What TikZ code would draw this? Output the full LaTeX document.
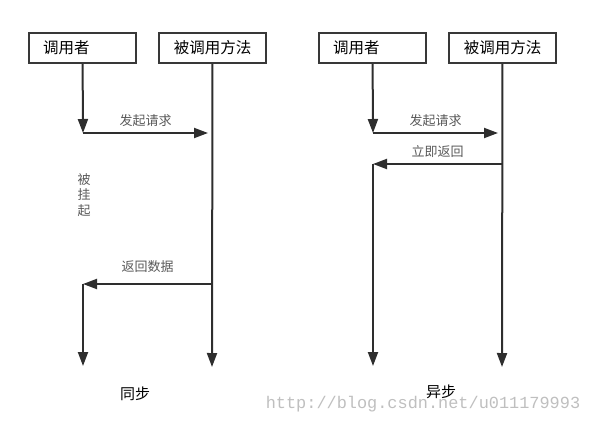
\documentclass[tikz,border=0pt]{standalone}
\usepackage{fontspec}
\newfontfamily\cjk{Noto Sans CJK SC}
\newfontfamily\wmfont{Liberation Mono}
\usetikzlibrary{arrows.meta}
\tikzset{
  box/.style={draw=black!78, line width=2.2pt, minimum width=107pt, minimum height=30pt, inner sep=0pt, font=\cjk\fontsize{15.5}{15.5}\selectfont},
  callerbox/.style={box, text width=79pt, align=left, inner xsep=14pt},
  life/.style={draw=black!82, line width=2pt},
  msg/.style={life, -{Triangle[length=14pt,width=10pt]}},
  lbl/.style={font=\cjk\fontsize{13}{13}\selectfont, text=black!65, inner sep=0pt}
}
\begin{document}
\begin{tikzpicture}[x=1pt,y=-1pt]
\useasboundingbox (0,0) rectangle (591,425);
\node[callerbox] (caller1) at (82.5,48) {调用者};
\node[box] (callee1) at (212.5,48) {被调用方法};
\node[callerbox] (caller2) at (372.5,48) {调用者};
\node[box] (callee2) at (502.5,48) {被调用方法};
\coordinate (req1) at (83,133);
\coordinate (got1) at (208,133);
\coordinate (ret1) at (212,284);
\coordinate (back1) at (83,284);
\coordinate (end1) at (83,366);
\coordinate (fin1) at (212,367);
\coordinate (req2) at (373,133);
\coordinate (got2) at (498,133);
\coordinate (ret2) at (502,164);
\coordinate (back2) at (373,164);
\coordinate (end2) at (373,366);
\coordinate (fin2) at (502,367);
\draw[msg] (caller1) -- (req1);
\draw[msg] (req1) -- node[lbl, above=5pt] (send1) {发起请求} (got1);
\draw[msg] (callee1) -- (fin1);
\draw[msg] (ret1) -- node[lbl, above=10pt] (data1) {返回数据} (back1);
\draw[msg] (back1) -- (end1);
\node[lbl, align=center, font=\cjk\fontsize{13}{15.5}\selectfont] (hang1) at (84,195) {被\\挂\\起};
\node[font=\cjk\fontsize{15}{15}\selectfont] (sync) at (135,394) {同步};
\draw[msg] (caller2) -- (req2);
\draw[msg] (req2) -- node[lbl, above=5pt] (send2) {发起请求} (got2);
\draw[msg] (callee2) -- (fin2);
\draw[msg] (ret2) -- node[lbl, above=5pt] (now2) {立即返回} (back2);
\draw[msg] (back2) -- (end2);
\node[font=\cjk\fontsize{15}{15}\selectfont] (async) at (441,392) {异步};
\node[font=\wmfont\fontsize{16.9}{16.9}\selectfont, text=black!25] (mark) at (423,404) {http://blog.csdn.net/u011179993};
\end{tikzpicture}
\end{document}
